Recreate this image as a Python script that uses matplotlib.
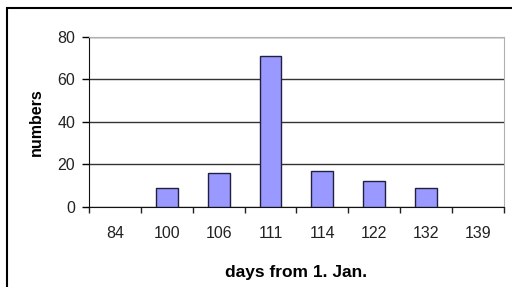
import matplotlib.pyplot as plt
import numpy as np
from matplotlib.patches import Rectangle

# data
days = ['84', '100', '106', '111', '114', '122', '132', '139']
numbers = [0, 9, 16, 71, 17, 12, 9, 0]

plt.rcParams['font.family'] = ['Liberation Sans', 'DejaVu Sans']

fig = plt.figure(figsize=(5.12, 2.87), dpi=100)
ax = fig.add_axes([0.174, 0.279, 0.81, 0.592])

x = np.arange(len(days))
edge_w = [1 if v else 0 for v in numbers]
ax.bar(x, numbers, width=0.42, color='#9999ff', edgecolor='#202040', linewidth=edge_w, zorder=3)

ax.set_xlim(-0.5, len(days) - 0.5)
ax.set_ylim(0, 80)
ax.set_yticks([0, 20, 40, 60, 80])
ax.yaxis.grid(True, color='#333333', linewidth=1, zorder=0)
ax.set_axisbelow(True)

# category labels centred, tick marks between categories
ax.set_xticks(x)
ax.set_xticklabels(days, fontsize=11.5, color='#222222')
ax.set_xticks(np.arange(-0.5, len(days)), minor=True)
ax.tick_params(axis='x', which='major', length=0, pad=14)
ax.tick_params(axis='x', which='minor', length=4, width=1, direction='out', color='#222222')
ax.tick_params(axis='y', length=5, width=1, labelsize=11.5, labelcolor='#222222', pad=5)

for side in ['top', 'right']:
    ax.spines[side].set_color('#b0b0b0')
ax.spines['left'].set_color('#111111')
ax.spines['bottom'].set_color('#111111')

ax.set_xlabel('days from 1. Jan.', fontsize=12.5, fontweight='bold', labelpad=17)
ax.set_ylabel('numbers', fontsize=11.5, fontweight='bold', labelpad=10)

# outer frame around the chart
frame = Rectangle((7 / 512, -0.05), 1.1, 1 - 8 / 287 + 0.05, transform=fig.transFigure,
                  fill=False, edgecolor='black', linewidth=1.5, clip_on=False)
fig.patches.append(frame)

fig.savefig('out.png', dpi=100)
